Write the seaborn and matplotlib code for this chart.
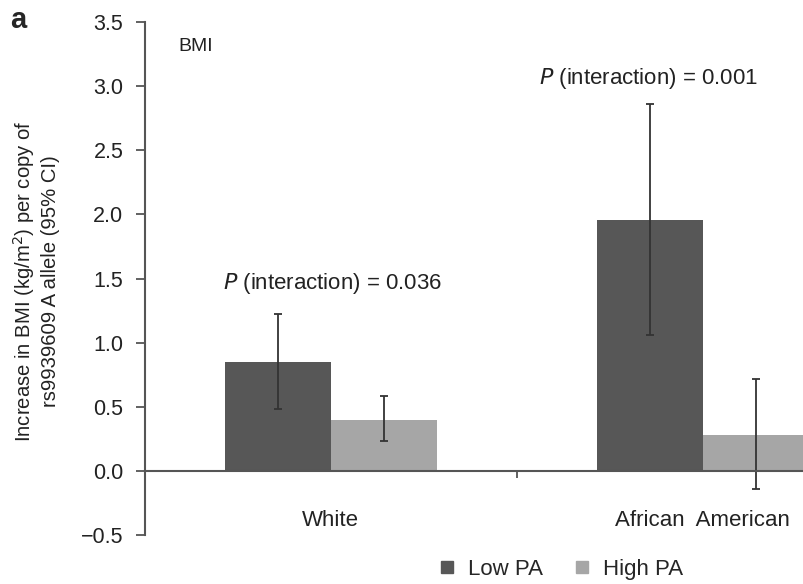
import matplotlib
matplotlib.use('Agg')
import matplotlib.pyplot as plt
import pandas as pd
import seaborn as sns
import numpy as np

# data
groups = ["White", "African  American"]
levels = ["Low PA", "High PA"]
low_pa = [0.85, 1.96]
high_pa = [0.40, 0.28]
low_ci_lo = [0.48, 1.06]
low_ci_hi = [1.22, 2.86]
high_ci_lo = [0.23, -0.14]
high_ci_hi = [0.58, 0.72]
p_labels = ["0.036", "0.001"]
p_pos = [1.46, 3.06]

sns.set_theme(style="white")
plt.rcParams['font.family'] = ['Liberation Sans', 'DejaVu Sans']

df = pd.DataFrame({
    "group": groups * 2,
    "pa": [levels[0]] * 2 + [levels[1]] * 2,
    "beta": low_pa + high_pa,
})

fig = plt.figure(figsize=(8.04, 5.84), dpi=100)
ax = fig.add_axes([0.1803, 0.0839, 0.925, 0.8784])

sns.barplot(data=df, x="group", y="beta", hue="pa", order=groups,
            hue_order=levels, palette=["#575757", "#a6a6a6"],
            width=0.57, saturation=1, errorbar=None, legend=False,
            linewidth=0, ax=ax)

# CI error bars at each bar centre
lo_all = low_ci_lo + high_ci_lo
hi_all = low_ci_hi + high_ci_hi
for patch, val, lo, hi in zip(ax.patches, df["beta"], lo_all, hi_all):
    xc = patch.get_x() + patch.get_width() / 2
    ax.errorbar(xc, val, yerr=[[val - lo], [hi - val]], fmt='none',
                ecolor="#333333", elinewidth=1.3, capsize=3, capthick=1.3)

ax.set_xlim(-0.5, 1.5)
ax.set_ylim(-0.5, 3.5)
ax.set_yticks(np.arange(-0.5, 3.51, 0.5))
ax.set_yticklabels([f"{v:.1f}".replace("-", "\u2212") for v in np.arange(-0.5, 3.51, 0.5)],
                   fontsize=15.5, color="#222222")
ax.tick_params(axis='y', direction='out', length=6.5, width=1.3, color="#555555", pad=9, left=True)

# x axis at zero, one tick between the groups
ax.spines['bottom'].set_position(('data', 0))
ax.spines['top'].set_visible(False)
ax.spines['right'].set_visible(False)
for s in ['left', 'bottom']:
    ax.spines[s].set_color("#555555")
    ax.spines[s].set_linewidth(1.5)
ax.set_xticks([0.5])
ax.set_xticklabels([])
ax.tick_params(axis='x', direction='out', length=5, width=1.3, color="#555555", bottom=True)
ax.set_xlabel("")
ax.set_ylabel("Increase in BMI (kg/m$^2$) per copy of\nrs9939609 A allele (95% CI)",
              fontsize=14.6, color="#222222", linespacing=1.3)
ax.yaxis.set_label_coords(-0.114, 0.495)

for i, g in enumerate(groups):
    ax.text(i, -0.39, g, ha='center', va='center', fontsize=16, color="#222222")

ax.text(0.005, p_pos[0], f"$P$ (interaction) = {p_labels[0]}", ha='center', va='center',
        fontsize=16, color="#222222")
ax.text(0.855, p_pos[1], f"$P$ (interaction) = {p_labels[1]}", ha='center', va='center',
        fontsize=16, color="#222222")

ax.text(-0.41, 3.31, "BMI", fontsize=14, color="#222222", va='center')
fig.text(0.013, 0.965, "a", fontsize=21, fontweight='bold', va='center')

handles = [plt.Line2D([], [], marker='s', ls='', color=c, markersize=9)
           for c in ["#575757", "#a6a6a6"]]
fig.legend(handles, levels, loc='center', bbox_to_anchor=(0.698, 0.025), ncol=2,
           frameon=False, fontsize=16, handlelength=0.7, handletextpad=0.6,
           columnspacing=1.4)

fig.savefig("out.png", dpi=100, facecolor='white')
